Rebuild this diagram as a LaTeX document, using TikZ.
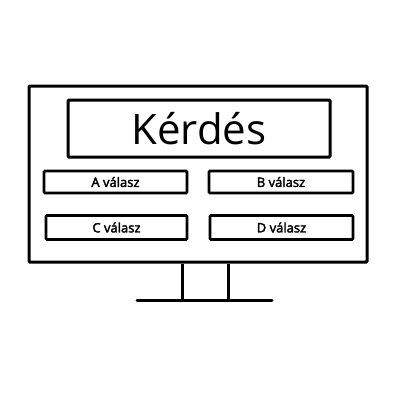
\documentclass[tikz,border=0pt]{standalone}
\usepackage{fontspec}
\setmainfont{Open Sans}
\begin{document}
\begin{tikzpicture}[x=1pt,y=-1pt,
  frame/.style={draw=black,line width=3pt,rounded corners=1pt},
  ans/.style={frame,line width=2.8pt,inner sep=0pt,font=\fontsize{13}{15}\selectfont\addfontfeature{FakeBold=2.5}},
  leg/.style={line width=3pt}]
\useasboundingbox[fill=white] (0,0) rectangle (400,400);
\node[frame,minimum width=338pt,minimum height=176pt,inner sep=0pt] (screen) at (198,174) {};
\node[frame,minimum width=262pt,minimum height=57pt,inner sep=0pt,font=\fontsize{42}{46}\selectfont] (q) at (199,128.5) {Kérdés};
\node[ans,minimum width=143pt,minimum height=22pt] (a) at (115.5,182) {A válasz};
\node[ans,minimum width=144pt,minimum height=22pt] (b) at (281,182) {B válasz};
\node[ans,minimum width=141pt,minimum height=24pt] (c) at (116.5,227.5) {C válasz};
\node[ans,minimum width=143pt,minimum height=24pt] (d) at (281.5,227.5) {D válasz};
\coordinate (l1) at (182,300);
\coordinate (l2) at (228,300);
\coordinate (b1) at (137,300);
\coordinate (b2) at (272,300);
\draw[leg] (l1 |- screen.south) -- (l1);
\draw[leg] (l2 |- screen.south) -- (l2);
\draw[leg,line cap=round] (b1) -- (b2);
\end{tikzpicture}
\end{document}
